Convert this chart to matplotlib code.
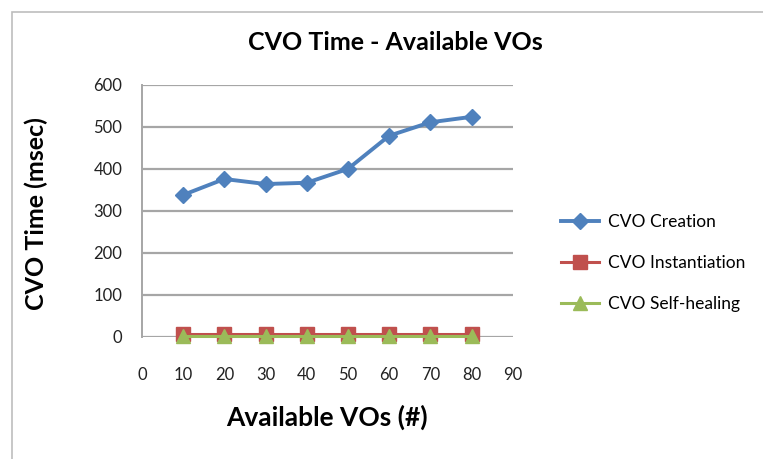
import matplotlib.pyplot as plt
from matplotlib.patches import Rectangle

# CVO time vs number of available VOs
available_vos = [10, 20, 30, 40, 50, 60, 70, 80]
cvo_creation = [338, 376, 364, 367, 400, 479, 511, 524]
cvo_instantiation = [8, 8, 8, 8, 8, 8, 8, 8]
cvo_self_healing = [2, 2, 2, 2, 2, 2, 2, 2]

x_ticks = [0, 10, 20, 30, 40, 50, 60, 70, 80, 90]
y_ticks = [0, 100, 200, 300, 400, 500, 600]

plt.rcParams['font.family'] = ['Lato', 'DejaVu Sans']

fig = plt.figure(figsize=(7.63, 4.59), dpi=100)
fig.patch.set_facecolor('white')

# outer chart frame
fig.patches.append(Rectangle((12 / 763, -0.05), 1.0, 1 - 12 / 459 + 0.05,
                             transform=fig.transFigure, fill=False,
                             edgecolor='#bdbdbd', linewidth=1.2))

ax = fig.add_axes([0.186, 0.266, 0.486, 0.549])

ax.plot(available_vos, cvo_creation, color='#4F81BD', marker='D',
        markersize=8, linewidth=2.8, label='CVO Creation')
ax.plot(available_vos, cvo_instantiation, color='#C0504D', marker='s',
        markersize=10, linewidth=2.2, label='CVO Instantiation')
ax.plot(available_vos, cvo_self_healing, color='#9BBB59', marker='^',
        markersize=10, linewidth=2.2, label='CVO Self-healing')

ax.set_xlim(0, 90)
ax.set_ylim(0, 600)
ax.set_xticks(x_ticks)
ax.set_yticks(y_ticks)
ax.tick_params(length=0, labelsize=12, colors='#222222')
ax.tick_params(axis='x', pad=22)
ax.tick_params(axis='y', pad=14)
ax.yaxis.grid(True, color='#a6a6a6', linewidth=1.6)
ax.set_axisbelow(True)
for s in ['top', 'right', 'bottom']:
    ax.spines[s].set_visible(False)
ax.spines['left'].set_color('#a6a6a6')
ax.spines['left'].set_linewidth(1.4)

for line in ax.lines:
    line.set_clip_on(False)

fig.text(0.518, 0.908, 'CVO Time - Available VOs', ha='center', va='center',
         fontsize=18, fontweight='bold')
fig.text(0.048, 0.535, 'CVO Time (msec)', ha='center', va='center',
         rotation=90, fontsize=18, fontweight='bold')
fig.text(0.429, 0.09, 'Available VOs (#)', ha='center', va='center',
         fontsize=19, fontweight='bold')

fig.legend(loc='center left', bbox_to_anchor=(0.715, 0.427), frameon=False,
           fontsize=12.5, labelspacing=1.45, handlelength=2.2,
           handletextpad=0.5)

fig.savefig('out.png', dpi=100)
